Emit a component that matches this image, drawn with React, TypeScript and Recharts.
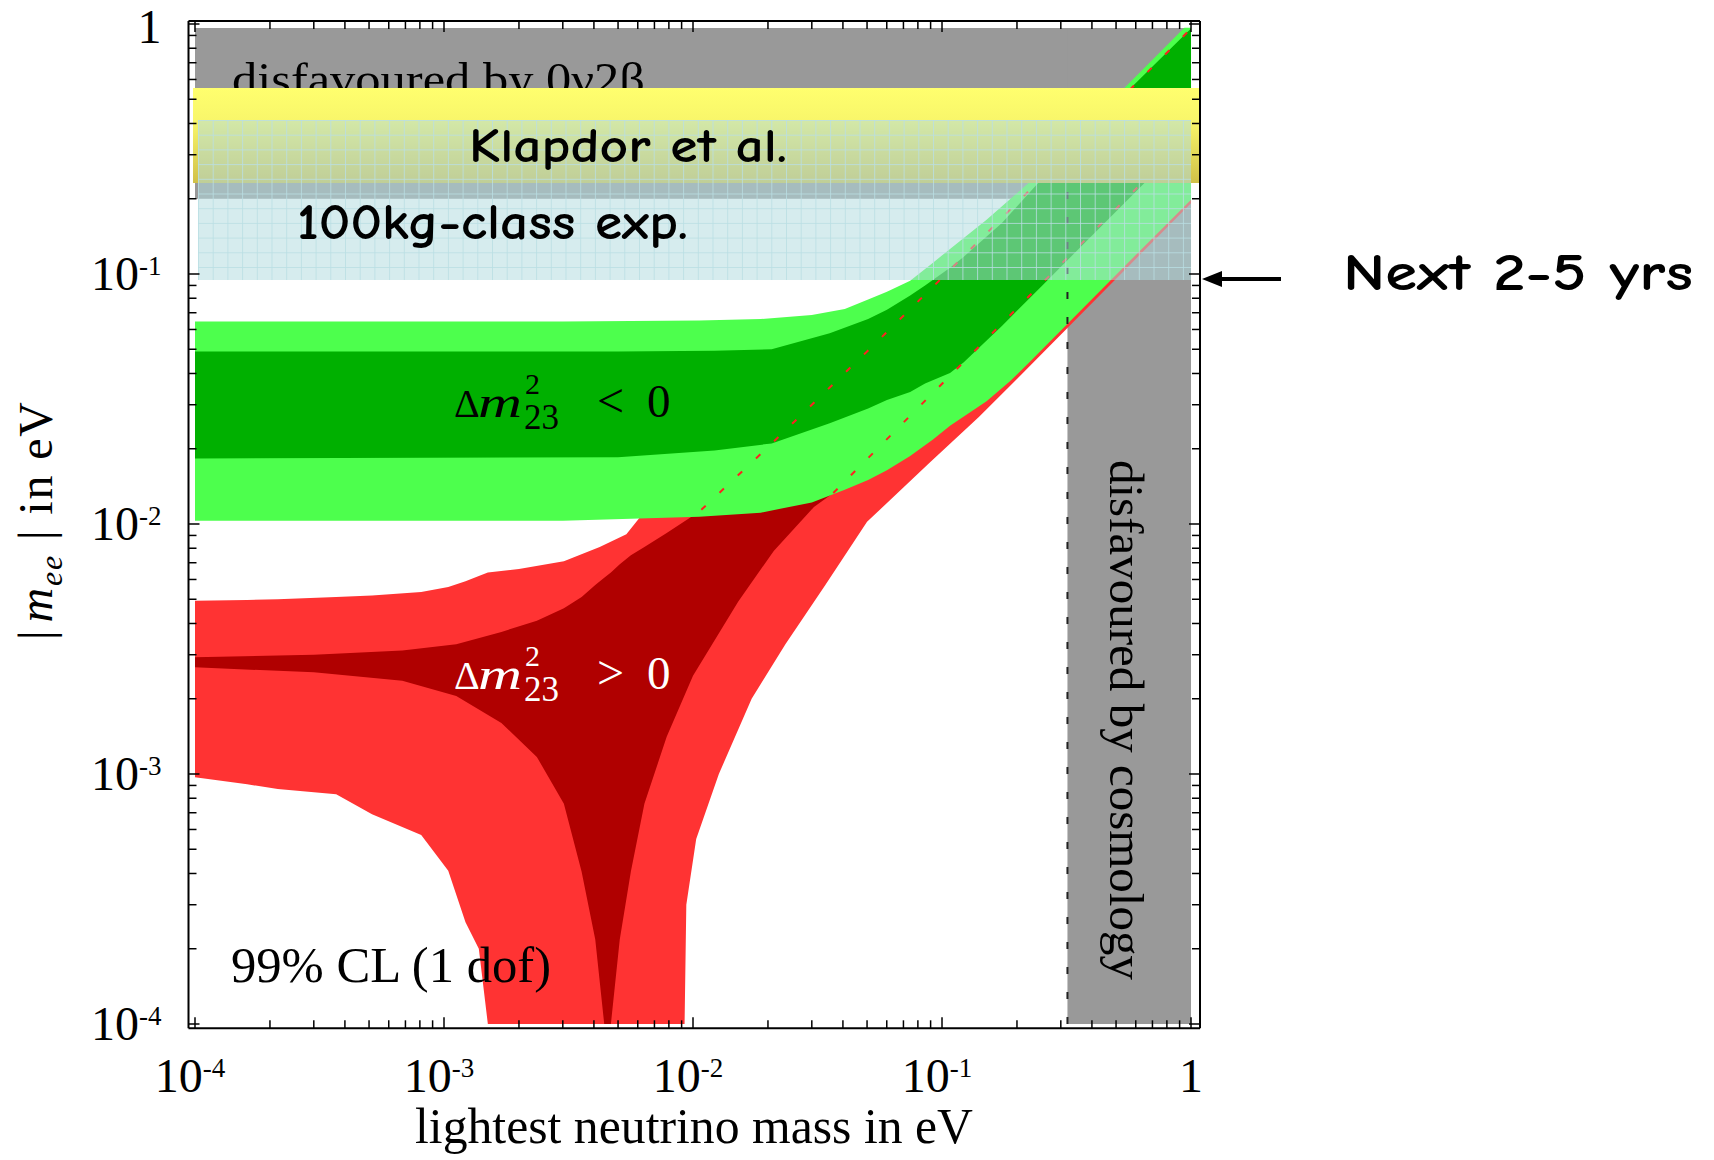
import React from "react";
import { ComposedChart, Area, Line, XAxis, YAxis, ReferenceArea } from "recharts";

// lightest neutrino mass m (eV) and |m_ee| bounds (eV)
const redOuterM = [1e-4, 1.62e-4, 2.15e-4, 3.69e-4, 5.14e-4, 8.1e-4, 1.04e-3, 1.22e-3, 1.38e-3, 1.5e-3, 2e-3, 3.03e-3, 4.22e-3, 5.4e-3, 6.1e-3, 9.25e-3, 9.4e-3, 0.0103, 0.0127, 0.0172, 0.0235, 0.034, 0.05, 0.0887, 0.1406, 0.2, 0.3175, 1];
const redOuterLow = [9.7e-4, 9.1e-4, 8.7e-4, 8.3e-4, 6.9e-4, 5.7e-4, 4.1e-4, 2.55e-4, 2.0e-4, 1e-4, 1e-4, 1e-4, 1e-4, 1e-4, 1e-4, 1e-4, 3.0e-4, 5.5e-4, 1.0e-3, 2.0e-3, 3.3e-3, 5.7e-3, 0.0102, 0.0175, 0.0268, 0.038, 0.0606, 0.192];
const redOuterHigh = [4.93e-3, 4.97e-3, 5.0e-3, 5.1e-3, 5.18e-3, 5.35e-3, 5.6e-3, 5.9e-3, 6.2e-3, 6.4e-3, 6.6e-3, 7.1e-3, 8.1e-3, 9.1e-3, 0.0106, 0.012, 0.0121, 0.0125, 0.0138, 0.0175, 0.0235, 0.033, 0.048, 0.085, 0.135, 0.192, 0.305, 0.959];

const redInnerM = [1e-4, 3e-4, 6.8e-4, 1.12e-3, 1.7e-3, 2.36e-3, 3.03e-3, 3.57e-3, 4.05e-3, 4.4e-3, 4.68e-3, 5.08e-3, 5.63e-3, 6.38e-3, 7.84e-3, 0.01, 0.0152, 0.0211, 0.0306, 0.0366, 0.1, 1];
const redInnerLow = [2.67e-3, 2.55e-3, 2.36e-3, 2.05e-3, 1.6e-3, 1.17e-3, 7.6e-4, 4.06e-4, 2.18e-4, 1e-4, 1e-4, 2.18e-4, 4.07e-4, 7.6e-4, 1.41e-3, 2.47e-3, 4.9e-3, 7.8e-3, 0.0117, 0.0133, 0.0365, 0.365];
const redInnerHigh = [2.93e-3, 3.0e-3, 3.12e-3, 3.3e-3, 3.7e-3, 4.1e-3, 4.6e-3, 5.1e-3, 5.7e-3, 6.1e-3, 6.4e-3, 6.9e-3, 7.5e-3, 8.1e-3, 9.2e-3, 0.0108, 0.0155, 0.0214, 0.0303, 0.0358, 0.0965, 0.959];

const greenOuterM = [1e-4, 3e-3, 0.0106, 0.0187, 0.03, 0.0407, 0.0505, 0.0601, 0.0745, 0.092, 0.1077, 0.151, 0.1875, 0.2255, 0.318, 0.6, 0.94, 1];
const greenOuterLow = [0.0103, 0.0103, 0.0107, 0.0111, 0.0122, 0.0137, 0.015, 0.0164, 0.0187, 0.0218, 0.0247, 0.031, 0.0372, 0.0446, 0.063, 0.119, 0.186, 0.198];
const greenOuterHigh = [0.0645, 0.0645, 0.0652, 0.066, 0.0685, 0.0725, 0.079, 0.085, 0.094, 0.111, 0.126, 0.165, 0.199, 0.234, 0.328, 0.617, 0.965, 0.965];

const greenInnerM = [1e-4, 0.005, 0.0122, 0.0207, 0.0354, 0.0505, 0.0601, 0.0745, 0.0855, 0.1077, 0.122, 0.174, 0.25, 0.5, 1];
const greenInnerLow = [0.0183, 0.0185, 0.0197, 0.021, 0.0253, 0.029, 0.0313, 0.0337, 0.0365, 0.0402, 0.0443, 0.062, 0.089, 0.178, 0.356];
const greenInnerHigh = [0.049, 0.049, 0.0493, 0.05, 0.058, 0.066, 0.072, 0.082, 0.09, 0.106, 0.117, 0.16, 0.238, 0.485, 0.96];

// dotted red edges of the normal-hierarchy region under the green band
const lineAM = [0.0108, 0.02, 0.05, 0.1, 1];
const lineAV = [0.0114, 0.0203, 0.049, 0.0965, 0.959];
const lineBM = [0.0366, 1];
const lineBV = [0.0133, 0.365];
const cosmoM = [0.319, 0.319];
const cosmoV = [1e-4, 0.231];

// shaded bands [m1, m2], [mee1, mee2]
const grayTopM = [1e-4, 1];
const grayTopV = [0.2, 0.964];
const cosmoBandM = [0.319, 1];
const cosmoBandV = [1e-4, 0.964];
const klapdorM = [Math.pow(10, -4.008), Math.pow(10, 0.0361)];
const klapdorV = [0.231, 0.555];
const kg100M = [Math.pow(10, -3.988), 1];
const kg100V = [0.0946, 0.413];

const tickExps = [-4, -3, -2, -1, 0];
const minorSteps = [1, 2, 3, 4, 5, 6, 7, 8, 9];

const X_MIN = Math.pow(10, -4.0261);
const X_MAX = Math.pow(10, 0.0361);
const Y_MIN = Math.pow(10, -4.0172);
const Y_MAX = Math.pow(10, 0.012);

const allTicks = tickExps.slice(0, 4).flatMap((e) => minorSteps.map((k) => k * Math.pow(10, e))).concat([1]);

const zipRange = (m: number[], lo: number[], hi: number[]) => m.map((v, i) => ({ m: v, r: [lo[i], hi[i]] }));
const zipLine = (m: number[], v: number[]) => m.map((x, i) => ({ m: x, v: v[i] }));

const redOuter = zipRange(redOuterM, redOuterLow, redOuterHigh);
const redInner = zipRange(redInnerM, redInnerLow, redInnerHigh);
const greenOuter = zipRange(greenOuterM, greenOuterLow, greenOuterHigh);
const greenInner = zipRange(greenInnerM, greenInnerLow, greenInnerHigh);
const lineA = zipLine(lineAM, lineAV);
const lineB = zipLine(lineBM, lineBV);
const cosmoLine = zipLine(cosmoM, cosmoV);

const serif = "'Liberation Serif', 'Times New Roman', Times, serif";
const comic = "'Comic Sans MS', 'Comic Neue', 'Open Sans', 'Noto Sans', sans-serif";

const isMajor = (v: number) => {
  const l = Math.log10(v);
  return Math.abs(l - Math.round(l)) < 1e-6;
};

const expLabel = (v: number) => {
  const e = Math.round(Math.log10(v));
  if (e === 0) return "1";
  return (
    <>
      10
      <tspan dy={-15} fontSize={27}>
        {`${e}`}
      </tspan>
    </>
  );
};

const LeftTick = (props: any) => {
  const { x, y, payload } = props;
  const major = isMajor(payload.value);
  const one = Math.abs(payload.value - 1) < 1e-9;
  return (
    <g>
      <line x1={x} y1={y} x2={x + (major ? 11 : 8)} y2={y} stroke="#000" strokeWidth={1.5} />
      {major && (
        <text x={x - 27} y={y + (one ? 19 : 16)} textAnchor="end" fontFamily={serif} fontSize={48} fill="#000">
          {expLabel(payload.value)}
        </text>
      )}
    </g>
  );
};

const RightTick = (props: any) => {
  const { x, y, payload } = props;
  const major = isMajor(payload.value);
  return <line x1={x} y1={y} x2={x - (major ? 11 : 8)} y2={y} stroke="#000" strokeWidth={1.5} />;
};

const TopTick = (props: any) => {
  const { x, y, payload } = props;
  const major = isMajor(payload.value);
  return <line x1={x} y1={y} x2={x} y2={y + (major ? 11 : 8)} stroke="#000" strokeWidth={1.5} />;
};

const BottomTick = (props: any) => {
  const { x, y, payload } = props;
  const major = isMajor(payload.value);
  const one = Math.abs(payload.value - 1) < 1e-9;
  return (
    <g>
      <line x1={x} y1={y} x2={x} y2={y - (major ? 11 : 8)} stroke="#000" strokeWidth={1.5} />
      {major && (
        <text x={one ? x : x - 5} y={y + 64} textAnchor="middle" fontFamily={serif} fontSize={48} fill="#000">
          {expLabel(payload.value)}
        </text>
      )}
    </g>
  );
};

// Δm²₂₃ label drawn at a baseline
const DeltaLabel = ({ y, sign, color }: { y: number; sign: string; color: string }) => (
  <g fill={color} fontFamily={serif}>
    <text x={454} y={y} fontSize={40}>Δ</text>
    <text x={478} y={y} fontSize={44} fontStyle="italic" textLength={44} lengthAdjust="spacingAndGlyphs">m</text>
    <text x={525} y={y - 23} fontSize={30}>2</text>
    <text x={524} y={y + 12} fontSize={35}>23</text>
    <text x={597} y={y} fontSize={48}>{sign}</text>
    <text x={647} y={y} fontSize={47}>0</text>
  </g>
);

const frame = { stroke: "#000", strokeWidth: 2 };

export default function App() {
  return (
    <div style={{ position: "absolute", left: 0, top: 0, width: 1714, height: 1160, background: "#fff" }}>
      <ComposedChart width={1714} height={1160} margin={{ top: 11, left: 128.5, right: 504, bottom: 71.7 }}>
        <defs>
          <linearGradient id="klapdorFill" x1="0" y1="0" x2="0" y2="1">
            <stop offset="0%" stopColor="#ffff6e" />
            <stop offset="35%" stopColor="#f8f66a" />
            <stop offset="100%" stopColor="#d0c048" />
          </linearGradient>
          <pattern id="kgGrid" x={198} y={120} width={14.7} height={14.7} patternUnits="userSpaceOnUse">
            <rect x={0} y={0} width={14.7} height={14.7} fill="rgb(177,219,223)" fillOpacity={0.525} />
            <line x1={0.5} y1={0} x2={0.5} y2={14.7} stroke="rgb(185,222,228)" strokeOpacity={0.8} strokeWidth={1} />
            <line x1={0} y1={0.5} x2={14.7} y2={0.5} stroke="rgb(185,222,228)" strokeOpacity={0.8} strokeWidth={1} />
          </pattern>
          <clipPath id="topTextClip">
            <rect x={0} y={0} width={1714} height={88} />
          </clipPath>
        </defs>

        <XAxis xAxisId="b" orientation="bottom" type="number" dataKey="m" scale="log" domain={[X_MIN, X_MAX]} allowDataOverflow
          ticks={allTicks} interval={0} tickSize={0} tickMargin={0} tickLine={false} axisLine={frame} tick={BottomTick} height={60} />
        <XAxis xAxisId="t" orientation="top" type="number" dataKey="m" scale="log" domain={[X_MIN, X_MAX]} allowDataOverflow
          ticks={allTicks} interval={0} tickSize={0} tickMargin={0} tickLine={false} axisLine={frame} tick={TopTick} height={10} />
        <YAxis yAxisId="l" orientation="left" type="number" scale="log" domain={[Y_MIN, Y_MAX]} allowDataOverflow
          ticks={allTicks} interval={0} tickSize={0} tickMargin={0} tickLine={false} axisLine={frame} tick={LeftTick} width={60} />
        <YAxis yAxisId="r" orientation="right" type="number" scale="log" domain={[Y_MIN, Y_MAX]} allowDataOverflow
          ticks={allTicks} interval={0} tickSize={0} tickMargin={0} tickLine={false} axisLine={frame} tick={RightTick} width={10} />

        <ReferenceArea xAxisId="b" yAxisId="l" x1={grayTopM[0]} x2={grayTopM[1]} y1={grayTopV[0]} y2={grayTopV[1]}
          fill="#999999" fillOpacity={1} stroke="none" zIndex={-95} />
        <ReferenceArea xAxisId="b" yAxisId="l" x1={cosmoBandM[0]} x2={cosmoBandM[1]} y1={cosmoBandV[0]} y2={cosmoBandV[1]}
          fill="#999999" fillOpacity={1} stroke="none" zIndex={-94} />

        <Area xAxisId="b" yAxisId="l" data={redOuter} dataKey="r" type="linear" stroke="none" fill="#ff3333" fillOpacity={1}
          isAnimationActive={false} dot={false} activeDot={false} zIndex={-90} />
        <Area xAxisId="b" yAxisId="l" data={redInner} dataKey="r" type="linear" stroke="none" fill="#b00000" fillOpacity={1}
          isAnimationActive={false} dot={false} activeDot={false} zIndex={-89} />
        <Area xAxisId="b" yAxisId="l" data={greenOuter} dataKey="r" type="linear" stroke="none" fill="#4dff4d" fillOpacity={1}
          isAnimationActive={false} dot={false} activeDot={false} zIndex={-88} />
        <Area xAxisId="b" yAxisId="l" data={greenInner} dataKey="r" type="linear" stroke="none" fill="#00b000" fillOpacity={1}
          isAnimationActive={false} dot={false} activeDot={false} zIndex={-87} />

        <Line xAxisId="b" yAxisId="l" data={lineA} dataKey="v" type="linear" stroke="#ff2020" strokeWidth={2} strokeDasharray="6 19"
          dot={false} activeDot={false} isAnimationActive={false} zIndex={-80} />
        <Line xAxisId="b" yAxisId="l" data={lineB} dataKey="v" type="linear" stroke="#ff2020" strokeWidth={2} strokeDasharray="6 19"
          dot={false} activeDot={false} isAnimationActive={false} zIndex={-79} />
        <Line xAxisId="b" yAxisId="l" data={cosmoLine} dataKey="v" type="linear" stroke="#222" strokeWidth={2} strokeDasharray="7 18"
          dot={false} activeDot={false} isAnimationActive={false} zIndex={-78} />

        <ReferenceArea xAxisId="b" yAxisId="l" x1={klapdorM[0]} x2={klapdorM[1]} y1={klapdorV[0]} y2={klapdorV[1]}
          fill="url(#klapdorFill)" fillOpacity={1} stroke="none" zIndex={-70} />
        <ReferenceArea xAxisId="b" yAxisId="l" x1={kg100M[0]} x2={kg100M[1]} y1={kg100V[0]} y2={kg100V[1]}
          fill="url(#kgGrid)" fillOpacity={1} stroke="none" zIndex={-69} />

        <g>
          <text x={232} y={95} fontFamily={serif} fontSize={46} textLength={413} lengthAdjust="spacingAndGlyphs" fill="#000" clipPath="url(#topTextClip)">
            disfavoured by 0ν2β
          </text>
          <text x={469} y={162} fontFamily={comic} fontWeight={700} fontSize={48} textLength={318} lengthAdjust="spacingAndGlyphs" fill="#000">
            Klapdor et al.
          </text>
          <text x={297} y={239} fontFamily={comic} fontWeight={700} fontSize={50} textLength={391} lengthAdjust="spacingAndGlyphs" fill="#000">
            100kg-class exp.
          </text>
          <text x={1343} y={290} fontFamily={comic} fontWeight={700} fontSize={53} textLength={350} lengthAdjust="spacingAndGlyphs" fill="#000">
            Next 2-5 yrs
          </text>
          <line x1={1218} y1={279} x2={1281} y2={279} stroke="#000" strokeWidth={4} />
          <polygon points="1202,279 1222,271 1222,287" fill="#000" />

          <DeltaLabel y={417} sign="<" color="#000" />
          <DeltaLabel y={689} sign=">" color="#fff" />

          <text x={231} y={982} fontFamily={serif} fontSize={50} textLength={320} lengthAdjust="spacingAndGlyphs" fill="#000">
            99% CL (1 dof)
          </text>
          <text x={1110} y={460} transform="rotate(90 1110 460)" fontFamily={serif} fontSize={48} textLength={520} lengthAdjust="spacingAndGlyphs" fill="#000">
            disfavoured by cosmology
          </text>
          <text x={52} y={640} transform="rotate(-90 52 640)" fontFamily={serif} fontSize={48} textLength={238} lengthAdjust="spacing" fill="#000">
            |<tspan dx={6} fontStyle="italic">m</tspan>
            <tspan dy={10} fontSize={32} fontStyle="italic">ee</tspan>
            <tspan dy={-10}> | in eV</tspan>
          </text>
          <text x={694} y={1143} textAnchor="middle" fontFamily={serif} fontSize={50} textLength={558} lengthAdjust="spacingAndGlyphs" fill="#000">
            lightest neutrino mass in eV
          </text>
        </g>
      </ComposedChart>
    </div>
  );
}
